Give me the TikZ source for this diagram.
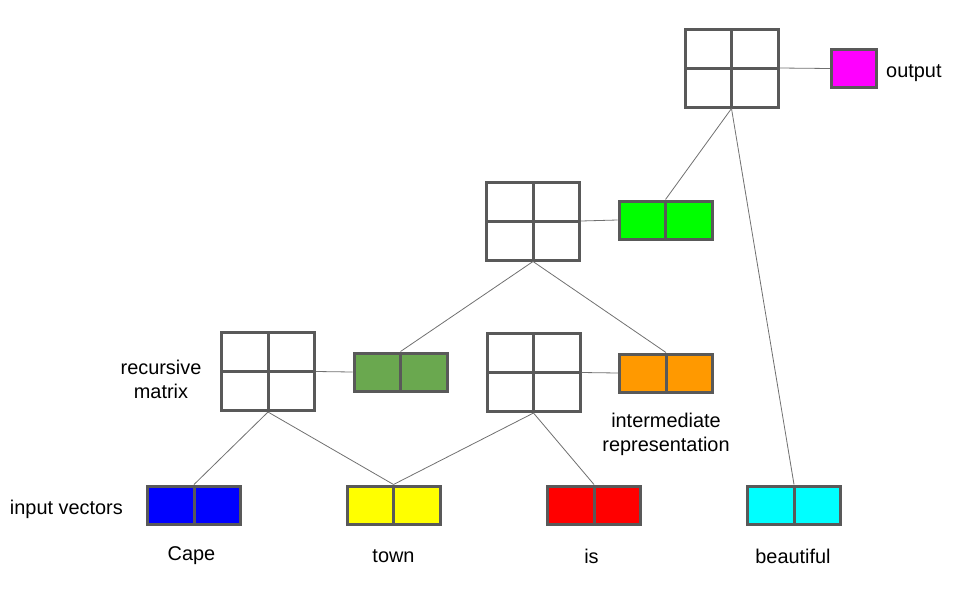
\documentclass[tikz,border=0pt]{standalone}
\usepackage{fontspec}
\setmainfont{Liberation Sans}
\usetikzlibrary{positioning}

\definecolor{boxgray}{HTML}{595959}
\definecolor{linkgray}{HTML}{707070}
\definecolor{vblue}{HTML}{0000FF}
\definecolor{vyellow}{HTML}{FFFF00}
\definecolor{vred}{HTML}{FF0000}
\definecolor{vcyan}{HTML}{00FFFF}
\definecolor{vgreen}{HTML}{00FF00}
\definecolor{vdarkgreen}{HTML}{6AA84F}
\definecolor{vorange}{HTML}{FF9900}
\definecolor{vmagenta}{HTML}{FF00FF}

\tikzset{
    lbl/.style={font=\fontsize{19.9}{24}\selectfont, inner sep=0pt},
    matbox/.style={draw=boxgray, line width=3pt, fill=white, minimum width=93pt, minimum height=78pt, inner sep=0pt,
        path picture={
            \draw[boxgray, line width=3pt] (path picture bounding box.north) -- (path picture bounding box.south);
            \draw[boxgray, line width=3pt] (path picture bounding box.west) -- (path picture bounding box.east);
        }},
    vecbox/.style={draw=boxgray, line width=3pt, fill=#1, minimum width=93pt, minimum height=38pt, inner sep=0pt,
        path picture={
            \draw[boxgray, line width=3pt] (path picture bounding box.north) -- (path picture bounding box.south);
        }},
    link/.style={draw=linkgray, line width=0.8pt}
}

\begin{document}
\begin{tikzpicture}[x=1pt, y=-1pt]
        \useasboundingbox (0,0) rectangle (960,600);

        % matrices
        \node[matbox] (mtop) at (731.5, 68) {};
        \node[matbox] (mmid) at (533, 221) {};
        \node[matbox] (mleft) at (268, 371.5) {};
        \node[matbox] (mright) at (533.5, 372.5) {};

        % intermediate and output vectors
        \node[vecbox=vgreen] (vmid) at (665.5, 220) {};
        \node[vecbox=vdarkgreen] (vleft) at (400.5, 372) {};
        \node[vecbox=vorange] (vright) at (666, 373) {};
        \node[draw=boxgray, line width=3pt, fill=vmagenta, minimum width=45pt, minimum height=38pt, inner sep=0pt] (vout) at (854, 68.5) {};

        % input vectors
        \foreach \name/\x/\col/\word in {cape/194/vblue/Cape, town/393.5/vyellow/town, is/594/vred/is, beautiful/794/vcyan/beautiful} {
            \node[vecbox=\col] (v\name) at (\x, 505) {};
        }
        \foreach \name/\x/\word in {cape/191.5/Cape, town/393.5/town, is/591.5/is, beautiful/793/beautiful} {
            \node[lbl] (w\name) at (\x, 556) {\word};
        }

        % links
        \draw[link] (mtop.east) -- (vout.west);
        \draw[link] (mmid.east) -- (vmid.west);
        \draw[link] (mleft.east) -- (vleft.west);
        \draw[link] (mright.east) -- (vright.west);
        \draw[link] (mtop.south) -- (vmid.north);
        \draw[link] (mtop.south) -- (vbeautiful.north);
        \draw[link] (mmid.south) -- (vleft.north);
        \draw[link] (mmid.south) -- (vright.north);
        \draw[link] (mleft.south) -- (vcape.north);
        \draw[link] (mleft.south) -- (vtown.north);
        \draw[link] (mright.south) -- (vtown.north);
        \draw[link] (mright.south) -- (vis.north);

        % labels
        \node[lbl, anchor=west] (loutput) at (886, 73.5) {output};
        \node[lbl, align=center] (lrec) at (161, 379) {recursive\\matrix};
        \node[lbl, align=center] (linter) at (666, 434) {intermediate\\representation};
        \node[lbl, anchor=east] (linput) at (123, 509) {input vectors};
\end{tikzpicture}
\end{document}
